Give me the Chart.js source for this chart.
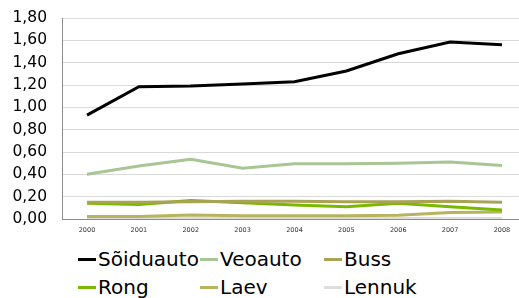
<!DOCTYPE html>
<html>
<head>
<meta charset="utf-8">
<script src="https://cdn.jsdelivr.net/npm/chart.js@4/dist/chart.umd.min.js"></script>
<style>
  html, body { margin: 0; padding: 0; background: #fff; }
  #wrap { position: relative; width: 519px; height: 298px; overflow: hidden; }
  #chart { position: absolute; left: 0; top: 0; }
  #legend { position: absolute; left: 0; top: 0; font-family: "DejaVu Sans", Verdana, sans-serif; font-size: 20px; color: #000; }
  #legend .item { position: absolute; height: 24px; line-height: 24px; white-space: nowrap; }
  #legend .mark { display: inline-block; width: 18px; height: 3px; vertical-align: middle; margin-right: 2px; position: relative; top: -1px; }
</style>
</head>
<body>
<div id="wrap">
  <canvas id="chart" width="519" height="240"></canvas>
  <div id="legend"></div>
</div>
<script>
'use strict';

// -------------------- data --------------------
const years = [2000, 2001, 2002, 2003, 2004, 2005, 2006, 2007, 2008];
const seriesNames = ['Sõiduauto', 'Veoauto', 'Buss', 'Rong', 'Laev', 'Lennuk'];
const soiduauto = [0.93, 1.185, 1.19, 1.21, 1.23, 1.325, 1.48, 1.585, 1.56];
const veoauto = [0.40, 0.475, 0.535, 0.455, 0.495, 0.495, 0.50, 0.51, 0.48];
const buss = [0.15, 0.15, 0.155, 0.16, 0.16, 0.155, 0.155, 0.16, 0.15];
const rong = [0.14, 0.13, 0.165, 0.145, 0.125, 0.11, 0.14, 0.11, 0.08];
const laev = [0.022, 0.022, 0.035, 0.028, 0.028, 0.028, 0.033, 0.058, 0.063];
const lennuk = [0.004, 0.004, 0.005, 0.005, 0.005, 0.005, 0.005, 0.005, 0.005];
const yTicks = [0, 0.2, 0.4, 0.6, 0.8, 1.0, 1.2, 1.4, 1.6, 1.8];

const colors = ['#000000', '#a9c594', '#a9a455', '#7cb800', '#b7b45f', '#dedede'];

// -------------------- chart --------------------
{
  const values = [soiduauto, veoauto, buss, rong, laev, lennuk];
  const datasets = seriesNames.map((name, i) => ({
    label: name,
    data: years.map((y, j) => ({ x: y, y: values[i][j] })),
    borderColor: colors[i],
    backgroundColor: colors[i],
    borderWidth: 3,
    pointRadius: 0,
    tension: 0,
  }));

  const ctx = document.getElementById('chart').getContext('2d');
  new Chart(ctx, {
    type: 'line',
    data: { datasets: datasets },
    options: {
      responsive: false,
      animation: false,
      layout: { padding: { top: 18, right: 0, left: 0, bottom: 0 } },
      plugins: {
        legend: { display: false },
        tooltip: { enabled: false },
      },
      scales: {
        x: {
          type: 'linear',
          min: 1999.518,
          max: 2008.328,
          afterBuildTicks: scale => { scale.ticks = years.map(v => ({ value: v })); },
          afterFit: scale => {
            scale.height = 21;
            scale.paddingLeft = 0;
            scale.paddingRight = 0;
          },
          grid: { display: false, drawTicks: false },
          border: { display: true, color: '#8c8c8c', width: 1 },
          ticks: {
            padding: 7,
            maxRotation: 0,
            autoSkip: false,
            color: '#333',
            font: { family: '"DejaVu Sans", Verdana, sans-serif', size: 6.5 },
            callback: v => String(v),
          },
        },
        y: {
          min: 0,
          max: 1.8,
          afterBuildTicks: scale => { scale.ticks = yTicks.map(v => ({ value: v })); },
          afterFit: scale => {
            scale.width = 62;
            scale.paddingTop = 0;
            scale.paddingBottom = 0;
          },
          grid: { color: '#d9d9d9', drawTicks: false, lineWidth: 1 },
          border: { display: true, color: '#8c8c8c', width: 1 },
          ticks: {
            padding: 15,
            color: '#000',
            font: { family: '"DejaVu Sans", Verdana, sans-serif', size: 15.5 },
            callback: v => v.toFixed(2).replace('.', ','),
          },
        },
      },
    },
  });

  // legend in three fixed columns
  const legend = document.getElementById('legend');
  const colX = [78, 200, 324];
  const rowY = [247, 275];
  seriesNames.forEach((name, i) => {
    const item = document.createElement('div');
    item.className = 'item';
    item.style.left = colX[i % 3] + 'px';
    item.style.top = rowY[Math.floor(i / 3)] + 'px';
    const mark = document.createElement('span');
    mark.className = 'mark';
    mark.style.background = colors[i];
    item.appendChild(mark);
    item.appendChild(document.createTextNode(name));
    legend.appendChild(item);
  });
}
</script>
</body>
</html>
